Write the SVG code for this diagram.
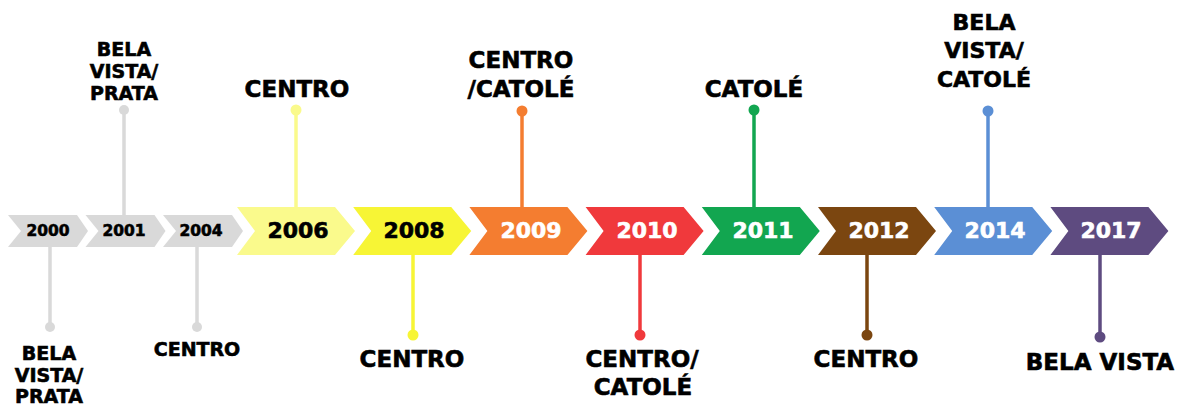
<svg xmlns="http://www.w3.org/2000/svg" width="1186" height="405" viewBox="0 0 1186 405">
<style>
text{font-family:"DejaVu Sans","Liberation Sans",sans-serif;font-weight:bold;text-anchor:middle;fill:#000;stroke:#000;stroke-width:0.6}
.yr{font-size:22px}
.sy{font-size:15.5px}
.w{fill:#fff;stroke:#fff}
.lb{font-size:23px}
.sl{font-size:19px}
.c line{stroke-width:3.5}
</style>
<defs>
<polygon id="big" points="0,207 98,207 118,231 98,255 0,255 18,231"/>
<polygon id="small" points="0,215 69,215 80,231 69,247 0,247 13,231"/>
</defs>
<rect width="1186" height="405" fill="#fff"/>
<g id="connectors" class="c">
<line x1="50" y1="247" x2="50" y2="327" stroke="#d9d9d9"/><circle cx="50" cy="327" r="5" fill="#d9d9d9"/>
<line x1="124" y1="215" x2="124" y2="110" stroke="#d9d9d9"/><circle cx="124" cy="110" r="5" fill="#d9d9d9"/>
<line x1="197" y1="247" x2="197" y2="327" stroke="#d9d9d9"/><circle cx="197" cy="327" r="5" fill="#d9d9d9"/>
<line x1="296" y1="207" x2="296" y2="110" stroke="#fafa8c"/><circle cx="296" cy="110" r="5.5" fill="#fafa8c"/>
<line x1="413" y1="255" x2="413" y2="335" stroke="#f7f535"/><circle cx="413" cy="335" r="5.5" fill="#f7f535"/>
<line x1="522" y1="207" x2="522" y2="111" stroke="#f47d30"/><circle cx="522" cy="111" r="5.5" fill="#f47d30"/>
<line x1="640" y1="255" x2="640" y2="335" stroke="#f0393c"/><circle cx="640" cy="335" r="5.5" fill="#f0393c"/>
<line x1="754" y1="207" x2="754" y2="110" stroke="#12a650"/><circle cx="754" cy="110" r="5.5" fill="#12a650"/>
<line x1="867" y1="255" x2="867" y2="335" stroke="#7b4610"/><circle cx="867" cy="335" r="5.5" fill="#7b4610"/>
<line x1="988" y1="207" x2="988" y2="111" stroke="#5b8fd5"/><circle cx="988" cy="111" r="5.5" fill="#5b8fd5"/>
<line x1="1100" y1="255" x2="1100" y2="337" stroke="#5e4b80"/><circle cx="1100" cy="337" r="5.5" fill="#5e4b80"/>
</g>
<g id="n2000"><use href="#small" x="8" fill="#d9d9d9"/><text class="sy" x="48" y="236">2000</text>
<text class="sl"><tspan x="49" y="360">BELA</tspan><tspan x="49" y="382">VISTA/</tspan><tspan x="49" y="403">PRATA</tspan></text></g>
<g id="n2001"><use href="#small" x="85.5" fill="#d9d9d9"/><text class="sy" x="124" y="236">2001</text>
<text class="sl"><tspan x="124" y="56">BELA</tspan><tspan x="124" y="78">VISTA/</tspan><tspan x="124" y="100">PRATA</tspan></text></g>
<g id="n2004"><use href="#small" x="163" fill="#d9d9d9"/><text class="sy" x="201" y="236">2004</text>
<text class="sl" x="197" y="356">CENTRO</text></g>
<g id="n2006"><use href="#big" x="237" fill="#fafa8c"/><text class="yr" x="298" y="238">2006</text>
<text class="lb" x="297" y="97">CENTRO</text></g>
<g id="n2008"><use href="#big" x="353.2" fill="#f7f535"/><text class="yr" x="414" y="238">2008</text>
<text class="lb" x="412" y="367">CENTRO</text></g>
<g id="n2009"><use href="#big" x="469.4" fill="#f47d30"/><text class="yr w" x="531" y="238">2009</text>
<text class="lb"><tspan x="521" y="68">CENTRO</tspan><tspan x="521" y="97">/CATOLÉ</tspan></text></g>
<g id="n2010"><use href="#big" x="585.6" fill="#f0393c"/><text class="yr w" x="647" y="238">2010</text>
<text class="lb"><tspan x="642" y="367">CENTRO/</tspan><tspan x="643" y="395">CATOLÉ</tspan></text></g>
<g id="n2011"><use href="#big" x="701.8" fill="#12a650"/><text class="yr w" x="763" y="238">2011</text>
<text class="lb" x="754" y="97">CATOLÉ</text></g>
<g id="n2012"><use href="#big" x="818" fill="#7b4610"/><text class="yr w" x="879" y="238">2012</text>
<text class="lb" x="866" y="367">CENTRO</text></g>
<g id="n2014"><use href="#big" x="934.2" fill="#5b8fd5"/><text class="yr w" x="995" y="238">2014</text>
<text class="lb" style="font-size:22px"><tspan x="984" y="30">BELA</tspan><tspan x="984" y="58">VISTA/</tspan><tspan x="984" y="87">CATOLÉ</tspan></text></g>
<g id="n2017"><use href="#big" x="1050.4" fill="#5e4b80"/><text class="yr w" x="1111" y="238">2017</text>
<text class="lb" x="1100" y="370">BELA VISTA</text></g>
</svg>
